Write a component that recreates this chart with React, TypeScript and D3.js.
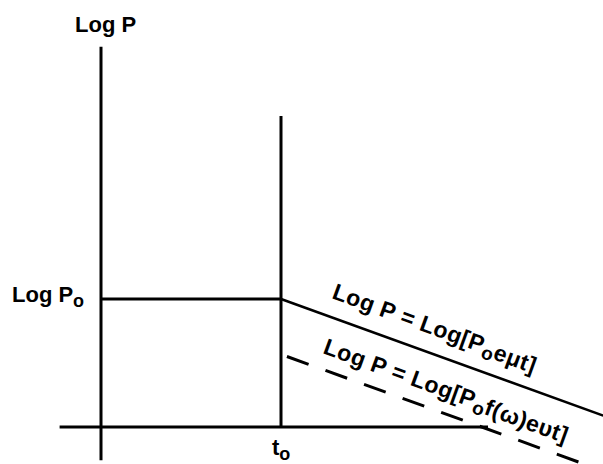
import { useEffect, useRef } from "react";
import * as d3 from "d3";

// schematic values: time in units of t0, Log P in units of Log P0
const timeAxis = [-0.23, 2.15];
const pressureAxis = [-0.26, 2.97];
const t0Marker = [0, 2.43];
const plateau = [
  { t: 0, logP: 1 },
  { t: 1, logP: 1 },
];
const decay = [
  { t: 1, logP: 1 },
  { t: 2.79, logP: 0.089 },
];
const decayWithF = [
  { t: 1.033, logP: 0.551 },
  { t: 2.85, logP: -0.374 },
];

const labelFont = "'Liberation Sans', Arial, Helvetica, sans-serif";

const App = () => {
  const svgRef = useRef<SVGSVGElement>(null);

  useEffect(() => {
    const width = 603;
    const height = 464;

    const svg = d3.select(svgRef.current);
    svg.selectAll("*").remove();
    svg.attr("width", width).attr("height", height);

    svg.append("rect").attr("width", width).attr("height", height).attr("fill", "#fff");

    const x = d3.scaleLinear().domain([0, 1]).range([101, 281]);
    const y = d3.scaleLinear().domain([0, 1]).range([427, 299]);

    const line = d3
      .line<{ t: number; logP: number }>()
      .x((d) => x(d.t))
      .y((d) => y(d.logP));

    const g = svg.append("g");

    // axes
    g.append("line")
      .attr("x1", x(timeAxis[0]))
      .attr("x2", x(timeAxis[1]))
      .attr("y1", y(0))
      .attr("y2", y(0))
      .attr("stroke", "#000")
      .attr("stroke-width", 3);

    g.append("line")
      .attr("x1", x(0))
      .attr("x2", x(0))
      .attr("y1", y(pressureAxis[0]))
      .attr("y2", y(pressureAxis[1]))
      .attr("stroke", "#000")
      .attr("stroke-width", 3);

    // t0 marker
    g.append("line")
      .attr("x1", x(1))
      .attr("x2", x(1))
      .attr("y1", y(t0Marker[0]))
      .attr("y2", y(t0Marker[1]))
      .attr("stroke", "#000")
      .attr("stroke-width", 3);

    g.append("path")
      .datum(plateau)
      .attr("fill", "none")
      .attr("stroke", "#000")
      .attr("stroke-width", 3)
      .attr("d", line);

    g.append("path")
      .datum(decay)
      .attr("fill", "none")
      .attr("stroke", "#000")
      .attr("stroke-width", 2.5)
      .attr("d", line);

    g.append("path")
      .datum(decayWithF)
      .attr("fill", "none")
      .attr("stroke", "#000")
      .attr("stroke-width", 3)
      .attr("stroke-dasharray", "23 18")
      .attr("d", line);

    const text = svg
      .append("g")
      .attr("font-family", labelFont)
      .attr("font-weight", "bold")
      .attr("font-size", 22)
      .attr("fill", "#000");

    text.append("text").attr("x", 75).attr("y", 32).text("Log P");

    const p0 = text.append("text").attr("x", 12).attr("y", 302);
    p0.append("tspan").text("Log P");
    p0.append("tspan").attr("dy", 5).attr("font-size", 18).text("o");

    const t0 = text.append("text").attr("x", 272).attr("y", 455);
    t0.append("tspan").text("t");
    t0.append("tspan").attr("dy", 5).attr("font-size", 18).text("o");

    // the two decay equations run along the lines
    const angle = 20;

    const eq1 = text
      .append("text")
      .attr("font-size", 23)
      .attr("letter-spacing", 0.4)
      .attr("transform", `translate(331,298) rotate(${angle})`);
    eq1.append("tspan").text("Log P = Log[P");
    eq1.append("tspan").attr("dy", 5).attr("font-size", 19).text("o");
    eq1.append("tspan").attr("dy", -3).text("eμt]");

    const eq2 = text
      .append("text")
      .attr("font-size", 23)
      .attr("letter-spacing", 0.4)
      .attr("transform", `translate(322,353) rotate(${angle})`);
    eq2.append("tspan").text("Log P = Log[P");
    eq2.append("tspan").attr("dy", 5).attr("font-size", 19).text("o");
    eq2.append("tspan").attr("dy", -3).text("f(ω)eυt]");
  }, []);

  return (
    <div style={{ position: "absolute", left: 0, top: 0 }}>
      <svg ref={svgRef} style={{ display: "block" }}></svg>
    </div>
  );
};

export default App;
